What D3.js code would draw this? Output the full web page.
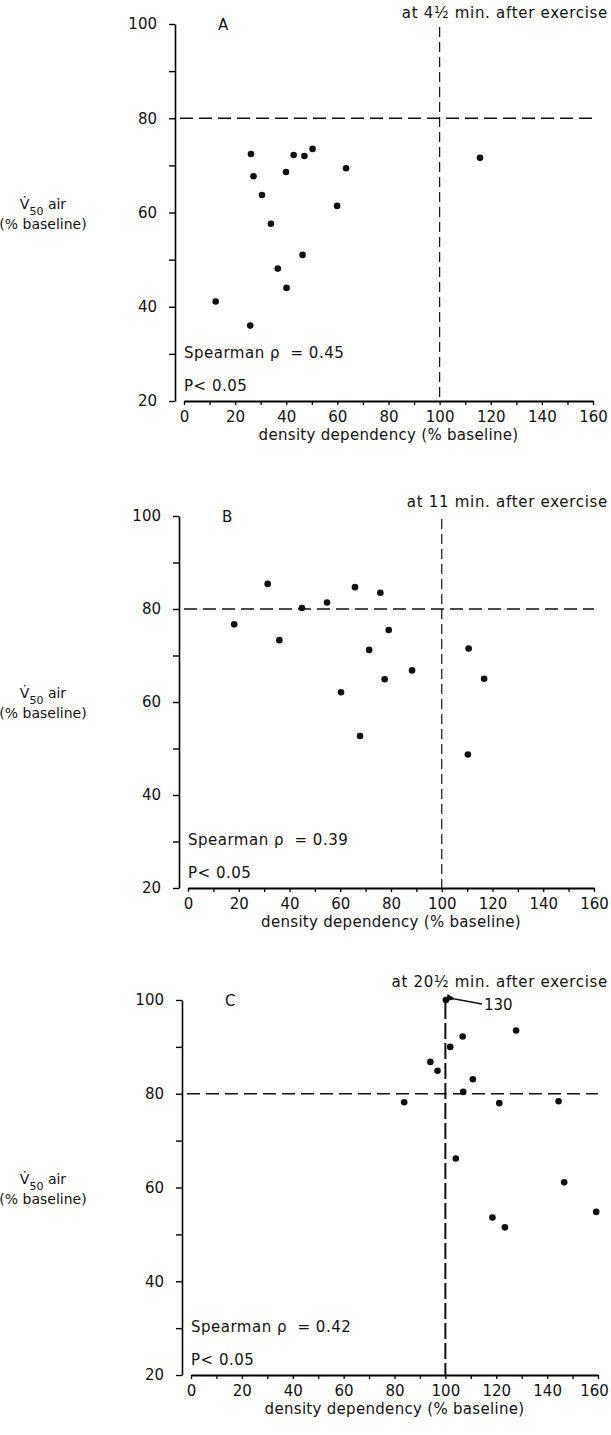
<!DOCTYPE html>
<html>
<head>
<meta charset="utf-8">
<script src="https://cdn.jsdelivr.net/npm/d3@7"></script>
<style>
  body { margin: 0; background: #fff; }
  svg { display: block; }
  text { font-family: 'DejaVu Sans', sans-serif; fill: #111; }
</style>
</head>
<body>
<svg width="611" height="1435"></svg>
<script>
const X_TICKS = [0, 20, 40, 60, 80, 100, 120, 140, 160];
const Y_TICKS = [20, 40, 60, 80, 100];
const MINOR_STEP = 10;

// panel A: 4 1/2 min after exercise
const A_X = [26.2, 27.2, 30.5, 39.9, 42.9, 47.1, 50.3, 63.4, 59.9, 115.8, 34.0, 46.4, 36.7, 40.1, 12.4, 25.9];
const A_Y = [72.4, 67.7, 63.7, 68.6, 72.2, 72.0, 73.5, 69.4, 61.4, 71.6, 57.6, 51.0, 48.1, 44.0, 41.1, 36.0];

// panel B: 11 min after exercise
const B_X = [18.2, 31.4, 36.0, 44.9, 54.8, 65.8, 75.8, 79.1, 71.4, 88.3, 77.5, 60.3, 110.6, 116.7, 67.8, 110.3];
const B_Y = [76.7, 85.4, 73.3, 80.2, 81.4, 84.7, 83.5, 75.5, 71.2, 66.8, 64.9, 62.1, 71.5, 65.0, 52.7, 48.7];

// panel C: 20 1/2 min after exercise (first point is off scale, 130)
const C_X = [100.2, 106.8, 101.9, 94.1, 96.9, 110.8, 127.8, 107.0, 83.8, 121.2, 144.5, 104.1, 146.7, 118.5, 123.4, 159.3];
const C_Y = [130, 92.2, 90.0, 86.8, 84.9, 83.1, 93.5, 80.4, 78.2, 78.0, 78.4, 66.2, 61.1, 53.6, 51.5, 54.8];

const TITLES = ['at 4½ min. after exercise', 'at 11 min. after exercise', 'at 20½ min. after exercise'];
const LETTERS = ['A', 'B', 'C'];
const RHO = ['0.45', '0.39', '0.42'];

const svg = d3.select('svg');

const panels = [
  { xs: A_X, ys: A_Y, xr: [184, 593], yr: [401, 24], titleDy: -6, vdash: { w: 1.2, d: '10,5' } },
  { xs: B_X, ys: B_Y, xr: [188, 594], yr: [888, 516], titleDy: -9, vdash: { w: 1.2, d: '10,5' } },
  { xs: C_X, ys: C_Y, xr: [191, 598], yr: [1375, 1000], titleDy: -13, vdash: { w: 2, d: '16,4' } }
];

panels.forEach((p, i) => {
  const x = d3.scaleLinear().domain([0, 160]).range(p.xr);
  const y = d3.scaleLinear().domain([20, 100]).range(p.yr).clamp(true);
  const g = svg.append('g');
  const axisX = x(0) - 9;

  // y axis
  g.append('g')
      .attr('transform', `translate(${axisX},0)`)
      .call(d3.axisLeft(y)
        .tickValues(d3.range(20, 101, MINOR_STEP))
        .tickSize(6)
        .tickSizeOuter(0)
        .tickPadding(12)
        .tickFormat(d => Y_TICKS.includes(d) ? d : ''))
      .call(a => a.select('.domain').attr('stroke-width', 1.6))
      .call(a => a.selectAll('.tick line').attr('stroke-width', 1.4))
      .call(a => a.selectAll('text').attr('font-size', 15).attr('font-family', 'DejaVu Sans'));

  // x axis
  g.append('g')
      .attr('transform', `translate(0,${y(20)})`)
      .call(d3.axisBottom(x)
        .tickValues(d3.range(0, 161, MINOR_STEP))
        .tickSize(4)
        .tickSizeOuter(0)
        .tickPadding(6)
        .tickFormat(d => X_TICKS.includes(d) ? d : ''))
      .call(a => a.select('.domain').attr('stroke-width', 2))
      .call(a => a.selectAll('.tick line').attr('stroke-width', 1.3))
      .call(a => a.selectAll('text').attr('font-size', 15).attr('font-family', 'DejaVu Sans'))
      // keep the last label inside the page
      .call(a => a.selectAll('.tick text')
        .filter(d => d === 160 && x(160) > 594)
        .attr('dx', 594 - x(160)));

  // reference lines
  g.append('line')
      .attr('x1', x(0) - 4).attr('x2', x(160))
      .attr('y1', y(80)).attr('y2', y(80))
      .attr('stroke', '#111').attr('stroke-width', 1.6)
      .attr('stroke-dasharray', '13,6');

  g.append('line')
      .attr('x1', x(100)).attr('x2', x(100))
      .attr('y1', y(100) + 3).attr('y2', y(20))
      .attr('stroke', '#111').attr('stroke-width', p.vdash.w)
      .attr('stroke-dasharray', p.vdash.d);

  // points
  g.append('g')
    .selectAll('circle')
    .data(d3.zip(p.xs, p.ys))
    .enter().append('circle')
      .attr('cx', d => x(d[0]))
      .attr('cy', d => y(d[1]))
      .attr('r', 3.3)
      .attr('fill', '#111');

  // labels
  g.append('text')
      .attr('x', 608).attr('y', y(100) + p.titleDy)
      .attr('text-anchor', 'end')
      .attr('font-size', 15)
      .attr('letter-spacing', 0.7)
      .text(TITLES[i]);

  g.append('text')
      .attr('x', x(0) + 34).attr('y', y(100) + 6)
      .attr('font-size', 15)
      .text(LETTERS[i]);

  g.append('text')
      .attr('x', x(0)).attr('y', y(20) - 43)
      .attr('font-size', 15)
      .attr('letter-spacing', 0.5)
      .text(`Spearman ρ\u00a0 = ${RHO[i]}`);

  g.append('text')
      .attr('x', x(0)).attr('y', y(20) - 10)
      .attr('font-size', 15)
      .attr('letter-spacing', 0.5)
      .text('P< 0.05');

  g.append('text')
      .attr('x', x(80)).attr('y', y(20) + 39)
      .attr('text-anchor', 'middle')
      .attr('font-size', 15)
      .attr('letter-spacing', 0.3)
      .text('density dependency (% baseline)');

  const yl = g.append('text')
      .attr('x', 43).attr('y', y(60) - 4)
      .attr('text-anchor', 'middle')
      .attr('font-size', 14);
  yl.append('tspan').text('V\u0307');
  yl.append('tspan').attr('font-size', 11).attr('dy', 6).text('50');
  yl.append('tspan').attr('dy', -6).text(' air');

  g.append('text')
      .attr('x', 43).attr('y', y(60) + 16)
      .attr('text-anchor', 'middle')
      .attr('font-size', 14)
      .text('(% baseline)');

  // off-scale value note in panel C
  if (i === 2) {
    const top = p.ys.indexOf(d3.max(p.ys));
    const px = x(p.xs[top]), py = y(p.ys[top]);
    svg.append('defs').append('marker')
        .attr('id', 'ah').attr('viewBox', '0 0 10 10')
        .attr('refX', 1).attr('refY', 5)
        .attr('markerWidth', 7).attr('markerHeight', 7)
        .attr('orient', 'auto')
      .append('path').attr('d', 'M10,1L0,5L10,9Z').attr('fill', '#111');
    g.append('line')
        .attr('x1', px + 36).attr('y1', py + 4)
        .attr('x2', px + 9).attr('y2', py - 1)
        .attr('stroke', '#111').attr('stroke-width', 1.3)
        .attr('marker-end', 'url(#ah)');
    g.append('text')
        .attr('x', px + 38).attr('y', py + 10)
        .attr('font-size', 15)
        .text(p.ys[top]);
  }
});
</script>
</body>
</html>
